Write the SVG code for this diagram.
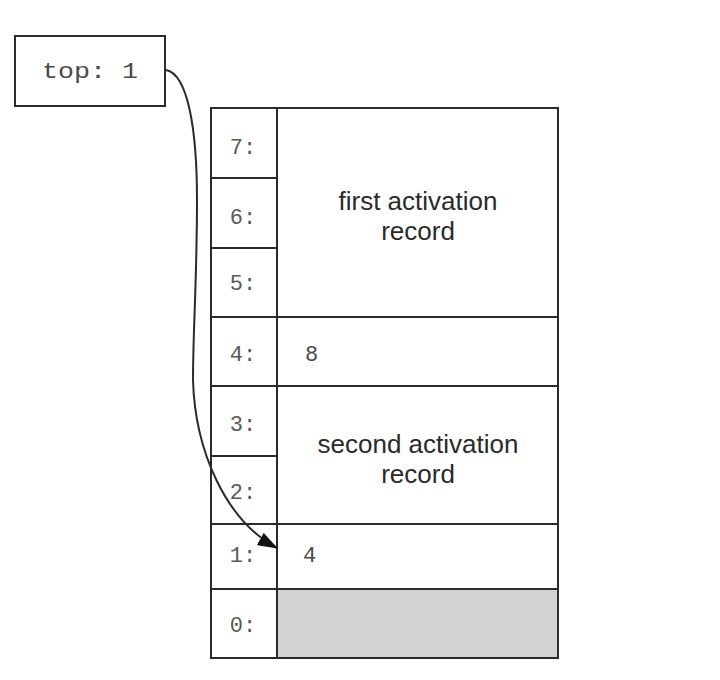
<svg xmlns="http://www.w3.org/2000/svg" width="720" height="680" viewBox="0 0 720 680">
  <style>
    .box { fill: #ffffff; stroke: #2b2b2b; stroke-width: 2; }
    .grid { stroke: #2b2b2b; stroke-width: 2; fill: none; }
    .idx { font-family: "Liberation Mono", "DejaVu Sans Mono", monospace; font-size: 22px; fill: #5a5a5a; text-anchor: middle; }
    .val { font-family: "Liberation Mono", "DejaVu Sans Mono", monospace; font-size: 22px; fill: #4a4a4a; }
    .rec { font-family: "Liberation Sans", Arial, sans-serif; font-size: 26px; fill: #2a2a2a; text-anchor: middle; }
    .conn { fill: none; stroke: #2b2b2b; stroke-width: 2; }
  </style>
  <defs>
    <marker id="arrow" markerWidth="20" markerHeight="14" refX="19" refY="7" orient="auto" markerUnits="userSpaceOnUse">
      <path d="M0,0 L20,7 L0,14 Z" fill="#111111"/>
    </marker>
  </defs>
  <rect width="720" height="680" fill="#ffffff"/>

  <g id="top-register">
    <rect class="box" x="15" y="36" width="150" height="70"/>
    <text class="val" x="42" y="78" font-size="24" textLength="96" lengthAdjust="spacingAndGlyphs" fill="#505050">top: 1</text>
  </g>

  <g id="stack">
    <rect class="box" x="211" y="108" width="347" height="550"/>
    <rect x="277" y="589" width="281" height="69" fill="#d4d4d4" stroke="none"/>
    <rect class="grid" x="211" y="108" width="347" height="550"/>
    <line class="grid" x1="277" y1="108" x2="277" y2="658"/>
    <line class="grid" x1="211" y1="178" x2="277" y2="178"/>
    <line class="grid" x1="211" y1="248" x2="277" y2="248"/>
    <line class="grid" x1="211" y1="317" x2="558" y2="317"/>
    <line class="grid" x1="211" y1="386" x2="558" y2="386"/>
    <line class="grid" x1="211" y1="456" x2="277" y2="456"/>
    <line class="grid" x1="211" y1="524" x2="558" y2="524"/>
    <line class="grid" x1="211" y1="589" x2="558" y2="589"/>
  </g>

  <g id="slot-7"><text class="idx" x="243" y="154">7:</text></g>
  <g id="slot-6"><text class="idx" x="243" y="224">6:</text></g>
  <g id="slot-5"><text class="idx" x="243" y="290">5:</text></g>
  <g id="slot-4"><text class="idx" x="243" y="361">4:</text><text class="val" x="305" y="361">8</text></g>
  <g id="slot-3"><text class="idx" x="243" y="431">3:</text></g>
  <g id="slot-2"><text class="idx" x="243" y="499">2:</text></g>
  <g id="slot-1"><text class="idx" x="243" y="562">1:</text><text class="val" x="303" y="562">4</text></g>
  <g id="slot-0"><text class="idx" x="243" y="632">0:</text></g>

  <g id="first-activation-record">
    <text class="rec" x="418" y="210">first activation</text>
    <text class="rec" x="418" y="240">record</text>
  </g>
  <g id="second-activation-record">
    <text class="rec" x="418" y="453">second activation</text>
    <text class="rec" x="418" y="483">record</text>
  </g>

  <g id="connectors">
    <path class="conn" d="M166,70 C188,74 197,130 197,200 C197,280 193,330 193,380 C195,450 225,520 277,548" marker-end="url(#arrow)"/>
  </g>
</svg>
